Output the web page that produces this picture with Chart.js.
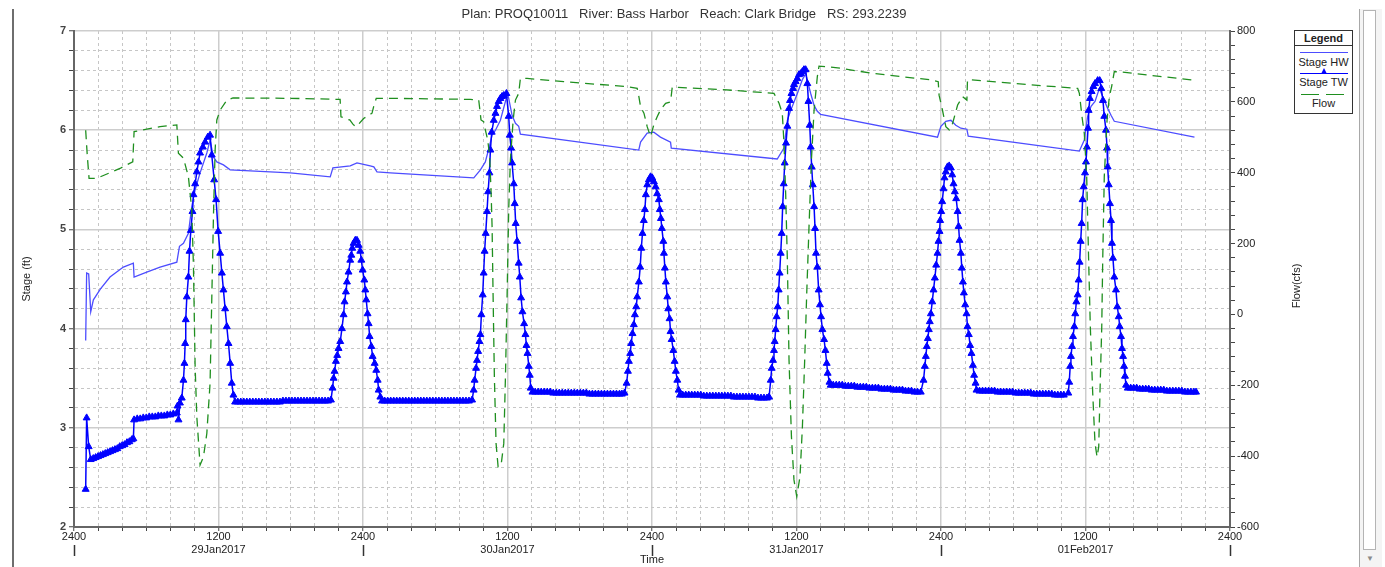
<!DOCTYPE html>
<html>
<head>
<meta charset="utf-8">
<title>Stage and Flow</title>
<script src="https://cdn.jsdelivr.net/npm/chart.js@4.4.1/dist/chart.umd.min.js"></script>
<style>
  body { margin: 0; background: #fff; font-family: "Liberation Sans", Arial, sans-serif; }
  #wrap { position: relative; width: 1385px; height: 567px; overflow: hidden; background: #fff; }
  #chart { position: absolute; left: 0; top: 0; }
  #frameLeft { position: absolute; left: 12px; top: 9px; width: 2px; height: 560px; background: #6e6e6e; }
  #scroll { position: absolute; left: 1359px; top: 9px; width: 22px; height: 560px; background: #f4f4f4; border-left: 1px solid #a8a8a8; }
  #scroll .thumb { position: absolute; left: 3px; top: 1px; width: 11px; height: 538px; background: #fff; border: 1px solid #b4b4b4; }
  #scroll .arrow { position: absolute; left: 6px; top: 545px; font-size: 8px; color: #8a8a8a; }
  #legend { position: absolute; left: 1294px; top: 30px; width: 57px; height: 82px; border: 1px solid #333; background: #fff; font-size: 11px; color: #222; }
  #legend .title { position: absolute; left: 0; top: 1px; width: 100%; text-align: center; font-weight: bold; }
  #legend .sep { position: absolute; left: 0; top: 14px; width: 100%; height: 1px; background: #333; }
  #legend .lab { position: absolute; left: 0; width: 100%; text-align: center; }
  #legend .ln { position: absolute; left: 5px; width: 48px; height: 1px; }
  #legend .tri { position: absolute; width: 0; height: 0; border-left: 3.5px solid transparent; border-right: 3.5px solid transparent; border-bottom: 6px solid #0000ff; }
  #legend .dash { position: absolute; height: 1px; background: #1f8f1f; }
</style>
</head>
<body>
<div id="wrap">
  <canvas id="chart" width="1385" height="567"></canvas>
  <div id="frameLeft"></div>
  <div id="scroll"><div class="thumb"></div><div class="arrow">&#9660;</div></div>
  <div id="legend">
    <div class="title">Legend</div>
    <div class="sep"></div>
    <div class="ln" style="top:21px;background:#4d4dff;"></div>
    <div class="lab" style="top:25px;">Stage HW</div>
    <div class="ln" style="top:42px;background:#0000ff;"></div>
    <div class="tri" style="left:26px;top:37px;"></div>
    <div class="lab" style="top:45px;">Stage TW</div>
    <div class="dash" style="left:6px;top:63px;width:18px;"></div>
    <div class="dash" style="left:31px;top:63px;width:18px;"></div>
    <div class="lab" style="top:66px;">Flow</div>
  </div>
</div>
<script>
// hours after 28Jan2017 2400
const chartTitle = "Plan: PROQ10011   River: Bass Harbor   Reach: Clark Bridge   RS: 293.2239";
const noonDates = { 12: "29Jan2017", 36: "30Jan2017", 60: "31Jan2017", 84: "01Feb2017" };
const dayMarks = [0, 24, 48, 72, 96];

// Stage HW (ft)
const hwHours = [
  0.97, 1.05, 1.22, 1.39, 1.61, 2.2, 2.99, 4.1, 4.93, 4.99,
  6.04, 7.15, 8.54, 8.76, 9.09, 9.5, 9.78, 10.06, 10.47, 11.03,
  11.3, 11.58, 11.86, 12.41, 12.97, 17.96, 21.28, 21.5, 22.94, 23.5,
  24.6, 24.9, 25.16, 26.27, 29.04, 33.2, 33.75, 34.16, 34.52, 34.72,
  35.0, 35.41, 35.83, 36.02, 36.38, 36.66, 36.93, 37.07, 46.9, 47.05,
  47.6, 48.15, 48.7, 49.54, 49.6, 58.4, 58.96, 59.24, 59.52, 60.07,
  60.49, 60.76, 61.18, 61.46, 61.73, 62.0, 71.71, 71.99, 72.4, 72.82,
  73.23, 73.65, 74.15, 74.26, 83.49, 83.9, 84.18, 84.46, 84.79, 85.15,
  85.56, 85.84, 86.12, 86.39, 93.05
];
const hwStage = [
  3.88, 4.56, 4.55, 4.17, 4.29, 4.40, 4.52, 4.62, 4.66, 4.52,
  4.57, 4.62, 4.67, 4.83, 4.86, 4.96, 5.23, 5.40, 5.57, 5.77,
  5.90, 5.73, 5.68, 5.65, 5.60, 5.57, 5.53, 5.62, 5.64, 5.67,
  5.64, 5.63, 5.58, 5.57, 5.55, 5.52, 5.60, 5.68, 5.85, 5.95,
  6.00, 6.10, 6.29, 6.37, 6.15, 6.07, 6.04, 5.96, 5.80, 5.88,
  5.97, 5.98, 5.93, 5.88, 5.82, 5.71, 5.82, 6.10, 6.20, 6.37,
  6.51, 6.57, 6.37, 6.25, 6.19, 6.16, 5.93, 6.04, 6.09, 6.10,
  6.05, 6.02, 6.01, 5.94, 5.79, 5.90, 6.14, 6.24, 6.29, 6.42,
  6.30, 6.22, 6.15, 6.09, 5.93
];

// Stage TW (ft), one line per rise, fall or slack stretch
const twHours = [
  0.97, 1.05, 1.22, 1.39, 1.6, 1.8, 2.0, 2.2, 2.4, 2.6, 2.8, 3.0, 3.2, 3.4, 3.6, 3.8, 4.0, 4.2, 4.4, 4.6, 4.8, 4.93,
  4.99, 5.25, 5.5, 5.75, 6.0, 6.25, 6.5, 6.75, 7.0, 7.25, 7.5, 7.75, 8.0, 8.25, 8.54, 8.6, 8.68, 8.8,
  8.95, 9.09, 9.17, 9.23, 9.28, 9.37, 9.50, 9.59, 9.70, 9.84, 9.92, 10.06, 10.2, 10.34, 10.47, 10.7, 10.89, 11.11, 11.3,
  11.44, 11.64, 11.8, 11.97, 12.14, 12.28, 12.41, 12.55, 12.69, 12.83, 12.97, 13.1, 13.24, 13.38,
  13.6, 13.85, 14.1, 14.35, 14.6, 14.85, 15.1, 15.35, 15.6, 15.85, 16.1, 16.35, 16.6, 16.85, 17.1, 17.35, 17.6, 17.85, 18.1, 18.35, 18.6, 18.85, 19.1, 19.35, 19.6, 19.85, 20.1, 20.35, 20.6, 20.85, 21.1,
  21.34, 21.47, 21.56, 21.64, 21.75, 21.86, 21.97, 22.11, 22.25, 22.39, 22.47, 22.58, 22.67, 22.8, 22.94, 23.03, 23.11, 23.22, 23.36, 23.5,
  23.64, 23.77, 23.86, 23.97, 24.11, 24.19, 24.27, 24.38, 24.47, 24.55, 24.69, 24.8, 24.97, 25.1, 25.22, 25.3, 25.44, 25.58,
  25.8, 26.05, 26.3, 26.55, 26.8, 27.05, 27.3, 27.55, 27.8, 28.05, 28.3, 28.55, 28.8, 29.05, 29.3, 29.55, 29.8, 30.05, 30.3, 30.55, 30.8, 31.05, 31.3, 31.55, 31.8, 32.05, 32.3, 32.55, 32.8,
  33.06, 33.19, 33.27, 33.39, 33.47, 33.56, 33.67, 33.75, 33.83, 33.94, 34.02, 34.1, 34.19, 34.3, 34.39, 34.5, 34.58, 34.69, 34.86, 35.0, 35.13, 35.27, 35.41, 35.55, 35.69, 35.91,
  36.1, 36.19, 36.3, 36.38, 36.52, 36.6, 36.68, 36.8, 36.93, 37.02, 37.13, 37.24, 37.38, 37.49, 37.57, 37.66, 37.77, 37.85, 37.93, 38.07,
  38.3, 38.55, 38.8, 39.05, 39.3, 39.55, 39.8, 40.05, 40.3, 40.55, 40.8, 41.05, 41.3, 41.55, 41.8, 42.05, 42.3, 42.55, 42.8, 43.05, 43.3, 43.55, 43.8, 44.05, 44.3, 44.55, 44.8, 45.05, 45.3, 45.5,
  45.72, 45.89, 46.0, 46.08, 46.19, 46.27, 46.38, 46.49, 46.58, 46.69, 46.77, 46.91, 47.02, 47.11, 47.21, 47.32, 47.41, 47.49, 47.61, 47.74, 47.88,
  48.02, 48.16, 48.3, 48.43, 48.57, 48.65, 48.74, 48.82, 48.94, 48.99, 49.07, 49.15, 49.27, 49.35, 49.46, 49.54, 49.63, 49.77, 49.88, 49.98, 50.1, 50.21, 50.32,
  50.55, 50.8, 51.05, 51.3, 51.55, 51.8, 52.05, 52.3, 52.55, 52.8, 53.05, 53.3, 53.55, 53.8, 54.05, 54.3, 54.55, 54.8, 55.05, 55.3, 55.55, 55.8, 56.05, 56.3, 56.55, 56.8, 57.05, 57.3, 57.55,
  57.72, 57.86, 57.94, 58.05, 58.13, 58.19, 58.27, 58.35, 58.44, 58.52, 58.6, 58.69, 58.77, 58.85, 58.94, 59.02, 59.13, 59.24, 59.38, 59.46, 59.58, 59.71, 59.79, 59.93, 60.07, 60.21, 60.35, 60.49, 60.62, 60.76,
  60.9, 60.99, 61.1, 61.18, 61.26, 61.35, 61.46, 61.54, 61.62, 61.73, 61.84, 61.95, 62.04, 62.15, 62.29, 62.4, 62.51, 62.59, 62.74, 62.84,
  63.05, 63.3, 63.55, 63.8, 64.05, 64.3, 64.55, 64.8, 65.05, 65.3, 65.55, 65.8, 66.05, 66.3, 66.55, 66.8, 67.05, 67.3, 67.55, 67.8, 68.05, 68.3, 68.55, 68.8, 69.05, 69.3, 69.55, 69.8, 70.05,
  70.32, 70.55, 70.66, 70.74, 70.82, 70.91, 70.99, 71.07, 71.16, 71.27, 71.38, 71.49, 71.6, 71.71, 71.79, 71.88, 71.93, 72.02, 72.1, 72.21, 72.29, 72.4, 72.54, 72.68,
  72.82, 72.93, 73.04, 73.15, 73.26, 73.38, 73.46, 73.54, 73.65, 73.73, 73.82, 73.9, 74.01, 74.12, 74.2, 74.31, 74.42, 74.53, 74.65, 74.75, 74.87, 74.95,
  75.2, 75.45, 75.7, 75.95, 76.2, 76.45, 76.7, 76.95, 77.2, 77.45, 77.7, 77.95, 78.2, 78.45, 78.7, 78.95, 79.2, 79.45, 79.7, 79.95, 80.2, 80.45, 80.7, 80.95, 81.2, 81.45, 81.7, 81.95, 82.2,
  82.57, 82.65, 82.73, 82.79, 82.88, 82.96, 83.07, 83.15, 83.24, 83.35, 83.43, 83.51, 83.6, 83.68, 83.76, 83.85, 83.96, 84.04, 84.12, 84.21, 84.26, 84.37, 84.51, 84.65, 84.79, 85.01, 85.18,
  85.31, 85.45, 85.56, 85.7, 85.79, 85.84, 85.93, 86.03, 86.12, 86.2, 86.28, 86.39, 86.53, 86.64, 86.76, 86.84, 86.95, 87.03, 87.12, 87.2, 87.28, 87.37, 87.51,
  87.75, 88.0, 88.25, 88.5, 88.75, 89.0, 89.25, 89.5, 89.75, 90.0, 90.25, 90.5, 90.75, 91.0, 91.25, 91.5, 91.75, 92.0, 92.25, 92.5, 92.75, 93.0, 93.18
];
const twStage = [
  2.38, 3.10, 2.81, 2.68, 2.69, 2.70, 2.71, 2.72, 2.73, 2.74, 2.75, 2.76, 2.77, 2.78, 2.79, 2.81, 2.82, 2.83, 2.85, 2.86, 2.88, 2.89,
  3.08, 3.09, 3.09, 3.10, 3.10, 3.11, 3.11, 3.11, 3.12, 3.12, 3.12, 3.13, 3.13, 3.14, 3.15, 3.22, 3.08, 3.25,
  3.30, 3.48, 3.65, 3.85, 4.09, 4.32, 4.52, 4.78, 4.99, 5.18, 5.35, 5.46, 5.58, 5.68, 5.77, 5.83, 5.88, 5.93, 5.95,
  5.75, 5.50, 5.30, 4.98, 4.76, 4.56, 4.39, 4.20, 4.02, 3.85, 3.65, 3.45, 3.33, 3.26,
  3.26, 3.26, 3.26, 3.26, 3.26, 3.26, 3.26, 3.26, 3.26, 3.26, 3.26, 3.26, 3.26, 3.26, 3.26, 3.27, 3.27, 3.27, 3.27, 3.27, 3.27, 3.27, 3.27, 3.27, 3.27, 3.27, 3.27, 3.27, 3.27, 3.27, 3.27,
  3.28, 3.40, 3.50, 3.57, 3.67, 3.73, 3.80, 3.87, 4.00, 4.14, 4.27, 4.37, 4.47, 4.57, 4.69, 4.74, 4.81, 4.86, 4.89, 4.89,
  4.84, 4.78, 4.69, 4.59, 4.49, 4.39, 4.29, 4.15, 4.05, 3.92, 3.82, 3.72, 3.65, 3.58, 3.48, 3.38, 3.31, 3.27,
  3.27, 3.27, 3.27, 3.27, 3.27, 3.27, 3.27, 3.27, 3.27, 3.27, 3.27, 3.27, 3.27, 3.27, 3.27, 3.27, 3.27, 3.27, 3.27, 3.27, 3.27, 3.27, 3.27, 3.27, 3.27, 3.27, 3.27, 3.27, 3.27,
  3.28, 3.38, 3.48, 3.60, 3.68, 3.77, 3.87, 3.94, 4.14, 4.34, 4.56, 4.78, 4.96, 5.18, 5.38, 5.57, 5.80, 5.98, 6.10, 6.17, 6.24, 6.29, 6.32, 6.34, 6.35, 6.37,
  6.14, 5.95, 5.82, 5.67, 5.46, 5.26, 5.06, 4.88, 4.66, 4.52, 4.31, 4.17, 4.05, 3.94, 3.83, 3.75, 3.62, 3.53, 3.40, 3.36,
  3.36, 3.36, 3.36, 3.36, 3.36, 3.36, 3.35, 3.35, 3.35, 3.35, 3.35, 3.35, 3.35, 3.35, 3.35, 3.35, 3.35, 3.35, 3.34, 3.34, 3.34, 3.34, 3.34, 3.34, 3.34, 3.34, 3.34, 3.34, 3.34, 3.34,
  3.35, 3.45, 3.57, 3.67, 3.75, 3.85, 3.95, 4.04, 4.14, 4.22, 4.32, 4.47, 4.62, 4.81, 4.96, 5.09, 5.20, 5.35, 5.45, 5.50, 5.53,
  5.52, 5.48, 5.43, 5.36, 5.30, 5.20, 5.11, 5.01, 4.88, 4.76, 4.61, 4.47, 4.32, 4.20, 4.10, 3.97, 3.89, 3.78, 3.67, 3.57, 3.48, 3.38, 3.33,
  3.33, 3.33, 3.33, 3.33, 3.33, 3.33, 3.33, 3.32, 3.32, 3.32, 3.32, 3.32, 3.32, 3.32, 3.32, 3.32, 3.32, 3.31, 3.31, 3.31, 3.31, 3.31, 3.31, 3.31, 3.31, 3.30, 3.30, 3.30, 3.30,
  3.31, 3.48, 3.60, 3.68, 3.78, 3.87, 3.99, 4.12, 4.22, 4.39, 4.56, 4.76, 4.96, 5.23, 5.46, 5.67, 5.87, 6.04, 6.22, 6.30, 6.37, 6.42, 6.46, 6.49, 6.52, 6.56, 6.57, 6.59, 6.61, 6.61,
  6.47, 6.29, 6.05, 5.83, 5.63, 5.45, 5.23, 5.01, 4.76, 4.62, 4.39, 4.24, 4.12, 3.99, 3.89, 3.78, 3.65, 3.55, 3.46, 3.43,
  3.43, 3.43, 3.43, 3.43, 3.42, 3.42, 3.42, 3.42, 3.41, 3.41, 3.41, 3.41, 3.40, 3.40, 3.40, 3.40, 3.39, 3.39, 3.39, 3.39, 3.38, 3.38, 3.38, 3.38, 3.37, 3.37, 3.37, 3.36, 3.36,
  3.36, 3.48, 3.62, 3.72, 3.82, 3.90, 3.99, 4.07, 4.15, 4.27, 4.39, 4.51, 4.64, 4.76, 4.88, 4.98, 5.09, 5.18, 5.28, 5.41, 5.52, 5.58, 5.63, 5.64,
  5.62, 5.55, 5.46, 5.38, 5.31, 5.18, 5.03, 4.89, 4.76, 4.61, 4.47, 4.36, 4.24, 4.15, 4.02, 3.94, 3.83, 3.75, 3.63, 3.53, 3.45, 3.38,
  3.37, 3.37, 3.37, 3.37, 3.37, 3.37, 3.36, 3.36, 3.36, 3.36, 3.36, 3.36, 3.35, 3.35, 3.35, 3.35, 3.35, 3.35, 3.34, 3.34, 3.34, 3.34, 3.34, 3.34, 3.34, 3.33, 3.33, 3.33, 3.33,
  3.35, 3.46, 3.62, 3.72, 3.82, 3.92, 4.02, 4.15, 4.27, 4.34, 4.49, 4.67, 4.88, 5.06, 5.30, 5.43, 5.57, 5.68, 5.83, 6.02, 6.20, 6.32, 6.39, 6.44, 6.47, 6.50, 6.50,
  6.42, 6.30, 6.14, 6.00, 5.82, 5.63, 5.45, 5.26, 5.09, 4.86, 4.71, 4.52, 4.39, 4.22, 4.12, 4.02, 3.92, 3.80, 3.72, 3.62, 3.52, 3.43, 3.40,
  3.40, 3.40, 3.40, 3.39, 3.39, 3.39, 3.39, 3.38, 3.38, 3.38, 3.38, 3.38, 3.37, 3.37, 3.37, 3.37, 3.37, 3.37, 3.36, 3.36, 3.36, 3.36, 3.36
];

// Flow (cfs)
const flowHours = [
  0.97, 1.1, 1.25, 1.88, 3.82, 4.88, 4.99, 7.15, 8.54, 8.67,
  9.09, 9.5, 9.78, 9.92, 10.06, 10.2, 10.47, 10.75, 11.03, 11.3,
  11.44, 11.58, 11.72, 11.86, 12.14, 12.69, 13.2, 17.96, 22.1, 22.17,
  22.6, 22.9, 23.16, 23.4, 23.64, 24.05, 24.75, 24.88, 25.1, 26.27,
  32.9, 33.61, 33.69, 33.8, 34.02, 34.16, 34.36, 34.52, 34.64, 34.72,
  34.8, 34.91, 35.05, 35.22, 35.47, 35.69, 35.83, 35.97, 36.1, 36.24,
  36.47, 36.66, 36.93, 37.07, 37.63, 40.67, 45.94, 46.77, 46.91, 47.05,
  47.33, 47.6, 47.88, 48.15, 48.43, 48.7, 49.13, 49.54, 49.68, 50.0,
  53.7, 58.13, 58.55, 58.82, 58.96, 59.1, 59.24, 59.38, 59.58, 59.79,
  60.02, 60.29, 60.49, 60.68, 60.85, 61.04, 61.24, 61.46, 61.73, 61.87,
  62.57, 63.67, 66.17, 71.16, 71.77, 71.84, 72.12, 72.4, 72.68, 72.96,
  73.38, 73.79, 74.15, 74.2, 74.5, 79.47, 83.35, 83.49, 83.71, 83.9,
  84.1, 84.26, 84.4, 84.6, 84.79, 84.96, 85.1, 85.2, 85.35, 85.43,
  85.56, 85.79, 85.98, 86.17, 86.39, 86.8, 92.77, 93.18
];
const flowCfs = [
  520, 450, 384, 384, 412, 431, 516, 530, 535, 455,
  441, 389, 295, 135, -148, -289, -425, -402, -336, -194,
  41, 276, 464, 549, 577, 605, 611, 610, 607, 558,
  552, 549, 537, 530, 537, 553, 568, 586, 610, 610,
  607, 605, 582, 549, 544, 521, 492, 445, 342, 248,
  60, -176, -364, -430, -425, -364, -176, 60, 295, 436,
  549, 605, 624, 666, 666, 657, 643, 638, 615, 586,
  568, 530, 502, 535, 558, 577, 596, 600, 641, 641,
  635, 624, 596, 568, 483, 342, 154, -129, -345, -467,
  -514, -458, -317, -129, 60, 248, 436, 577, 671, 701,
  699, 695, 681, 662, 657, 619, 577, 530, 521, 539,
  591, 615, 605, 662, 662, 648, 638, 624, 558, 511,
  389, 154, -35, -223, -364, -402, -373, -223, -35, 154,
  389, 549, 615, 643, 685, 685, 662, 660
];

const toPoints = (xs, ys) => xs.map((h, i) => ({ x: h, y: ys[i] }));
const nearMultiple = (v, m) => Math.abs(v / m - Math.round(v / m)) < 1e-6;

Chart.defaults.font.family = '"Liberation Sans", Arial, sans-serif';
Chart.defaults.font.size = 11;
Chart.defaults.color = "#222";

// titles, axis names and the long day marks under the time axis
const annotate = {
  id: "annotate",
  afterDraw(chart) {
    const { ctx } = chart;
    const xs = chart.scales.x;
    ctx.save();
    ctx.fillStyle = "#333";
    ctx.textAlign = "center";
    ctx.textBaseline = "middle";
    ctx.font = '13px "Liberation Sans", Arial, sans-serif';
    ctx.fillText(chartTitle, 684, 14);

    ctx.fillStyle = "#222";
    ctx.font = '11px "Liberation Sans", Arial, sans-serif';
    ctx.fillText("Time", xs.getPixelForValue(48), 560);

    ctx.save();
    ctx.translate(27, 279);
    ctx.rotate(-Math.PI / 2);
    ctx.fillText("Stage (ft)", 0, 0);
    ctx.restore();

    ctx.save();
    ctx.translate(1297, 286);
    ctx.rotate(-Math.PI / 2);
    ctx.fillText("Flow(cfs)", 0, 0);
    ctx.restore();

    ctx.strokeStyle = "#333";
    ctx.lineWidth = 1.5;
    dayMarks.forEach(h => {
      const px = Math.round(xs.getPixelForValue(h)) + 0.5;
      ctx.beginPath();
      ctx.moveTo(px, 545);
      ctx.lineTo(px, 556);
      ctx.stroke();
    });
    ctx.restore();
  }
};

new Chart(document.getElementById("chart"), {
  type: "line",
  data: {
    datasets: [
      {
        label: "Flow",
        data: toPoints(flowHours, flowCfs),
        yAxisID: "y1",
        borderColor: "#1f8f1f",
        borderWidth: 1.3,
        borderDash: [9, 6],
        pointRadius: 0,
        tension: 0
      },
      {
        label: "Stage TW",
        data: toPoints(twHours, twStage),
        yAxisID: "y",
        borderColor: "#0000ff",
        borderWidth: 1.5,
        pointStyle: "triangle",
        pointRadius: 4,
        pointBackgroundColor: "#0000ff",
        pointBorderColor: "#0000ff",
        pointBorderWidth: 1,
        tension: 0
      },
      {
        label: "Stage HW",
        data: toPoints(hwHours, hwStage),
        yAxisID: "y",
        borderColor: "#4d4dff",
        borderWidth: 1.3,
        pointRadius: 0,
        tension: 0
      }
    ]
  },
  options: {
    responsive: false,
    animation: false,
    layout: { padding: { top: 31, left: 0, right: 0, bottom: 0 } },
    plugins: { legend: { display: false }, tooltip: { enabled: false } },
    scales: {
      x: {
        type: "linear",
        min: 0,
        max: 96,
        afterFit(s) { s.height = 40; },
        ticks: {
          stepSize: 2,
          autoSkip: false,
          maxRotation: 0,
          minRotation: 0,
          padding: 0,
          color: "#222",
          font: { size: 11, lineHeight: 1.15 },
          callback(v) {
            if (nearMultiple(v, 24)) return "2400";
            if (nearMultiple(v, 12)) return ["1200", noonDates[Math.round(v)]];
            return "";
          }
        },
        grid: {
          color: c => c.tick && nearMultiple(c.tick.value, 12) ? "#cdcdcd" : "#c6c6c6",
          lineWidth: c => c.tick && nearMultiple(c.tick.value, 12) ? 1.5 : 1,
          tickColor: "#444",
          tickLength: 4,
          tickWidth: 1
        },
        border: {
          color: "#666",
          width: 2,
          dash: c => (c.tick && !nearMultiple(c.tick.value, 12)) ? [3, 3] : []
        }
      },
      y: {
        position: "left",
        min: 2,
        max: 7,
        afterFit(s) { s.width = 74; },
        ticks: {
          stepSize: 0.2,
          autoSkip: false,
          padding: 3,
          color: "#444",
          font: { size: 11, weight: "bold" },
          callback: v => nearMultiple(v, 1) ? String(Math.round(v)) : ""
        },
        grid: {
          color: c => c.tick && nearMultiple(c.tick.value, 1) ? "#cdcdcd" : "#c6c6c6",
          lineWidth: c => c.tick && nearMultiple(c.tick.value, 1) ? 1.5 : 1,
          tickColor: "#444",
          tickLength: 5,
          tickWidth: 1
        },
        border: {
          color: "#666",
          width: 2,
          dash: c => (c.tick && !nearMultiple(c.tick.value, 1)) ? [3, 3] : []
        }
      },
      y1: {
        position: "right",
        min: -600,
        max: 800,
        afterFit(s) { s.width = 155; },
        ticks: {
          stepSize: 40,
          autoSkip: false,
          padding: 2,
          color: "#222",
          font: { size: 11 },
          callback: v => nearMultiple(v, 200) ? String(Math.round(v)) : ""
        },
        grid: {
          drawOnChartArea: false,
          tickColor: "#444",
          tickLength: 5,
          tickWidth: 1
        },
        border: { color: "#666", width: 2 }
      }
    }
  },
  plugins: [annotate]
});
</script>
</body>
</html>
